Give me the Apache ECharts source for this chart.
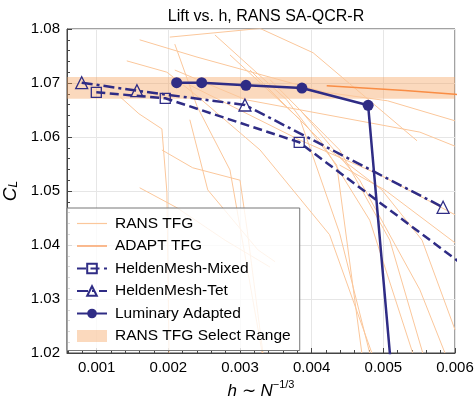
<!DOCTYPE html>
<html>
<head>
<meta charset="utf-8">
<script src="https://cdn.jsdelivr.net/npm/echarts@6/dist/echarts.min.js"></script>
<style>
  html, body { margin: 0; padding: 0; background: #fff; }
  #chart { width: 476px; height: 399px; }
</style>
</head>
<body>
<div id="chart"></div>
<script>
// RANS TFG grid-convergence lines (h, CL), one array per line
var ransTfgX = [
    [0.00202, 0.00328, 0.00402, 0.00547],
    [0.00160, 0.00240, 0.00418, 0.00506, 0.00600],
    [0.00209, 0.00308, 0.00551, 0.00600],
    [0.00142, 0.00198, 0.00240, 0.00328, 0.00425, 0.00484],
    [0.00209, 0.00240, 0.00286, 0.00331],
    [0.00133, 0.00159, 0.00191, 0.00198, 0.00201],
    [0.00191, 0.00234, 0.00300, 0.00310, 0.00332],
    [0.00160, 0.00212, 0.00279, 0.00342],
    [0.00230, 0.00255, 0.00325, 0.00349],
    [0.00265, 0.00365, 0.00435, 0.00470],
    [0.00286, 0.00384, 0.00439, 0.00481],
    [0.00314, 0.00412, 0.00481, 0.00541],
    [0.00342, 0.00439, 0.00509, 0.00555],
    [0.00384, 0.00467, 0.00551, 0.00586],
    [0.00425, 0.00498, 0.00554, 0.00600],
    [0.00439, 0.00502, 0.00600],
    [0.00230, 0.00384, 0.00495, 0.00600]
];
var ransTfgY = [
    [1.0785, 1.0801, 1.0756, 1.0593],
    [1.0780, 1.0748, 1.0683, 1.0667, 1.0630],
    [1.0724, 1.0669, 1.0609, 1.0583],
    [1.0741, 1.0720, 1.0676, 1.0576, 1.0419, 1.0200],
    [1.0772, 1.0657, 1.0539, 1.0200],
    [1.0674, 1.0643, 1.0615, 1.0498, 1.0200],
    [1.0576, 1.0543, 1.0520, 1.0428, 1.0200],
    [1.0506, 1.0469, 1.0409, 1.0359],
    [1.0632, 1.0502, 1.0391, 1.0369],
    [1.0789, 1.0669, 1.0548, 1.0200],
    [1.0752, 1.0632, 1.0422, 1.0200],
    [1.0724, 1.0594, 1.0446, 1.0200],
    [1.0706, 1.0576, 1.0409, 1.0200],
    [1.0650, 1.0520, 1.0317, 1.0200],
    [1.0576, 1.0502, 1.0409, 1.0243],
    [1.0548, 1.0502, 1.0404],
    [1.0696, 1.0594, 1.0530, 1.0456]
];

var adaptX = [0.00421, 0.00530, 0.00600, 0.00650];
var adaptY = [1.0695, 1.0686, 1.0679, 1.0674];

var mixedX = [0.000995, 0.001957, 0.003826, 0.00660];
var mixedY = [1.06828, 1.06717, 1.05902, 1.03148];

var tetX = [0.000791, 0.001562, 0.003069, 0.005834];
var tetY = [1.07006, 1.06857, 1.06593, 1.04698];

var luminaryX = [0.002116, 0.002465, 0.003083, 0.003864, 0.004788, 0.005223];
var luminaryY = [1.07006, 1.07006, 1.06957, 1.06907, 1.06587, 1.00000];

var selectRange = [1.0671, 1.0711];

var xMin = 0.000586, xMax = 0.006;
var yMin = 1.02, yMax = 1.08;

var navy = '#2f2c85';
var ransColor = '#fbc79b';
var adaptColor = '#f98d45';
var bandColor = 'rgba(244,160,90,0.4)';
var fontFam = '"Liberation Sans", Arial, sans-serif';
var thinLineIcon = 'path://M0,0H40V1.6H0Z';

function pairs(xs, ys) {
    return xs.map(function (x, i) { return [x, ys[i]]; });
}

var chart = echarts.init(document.getElementById('chart'));

var series = [];

// shaded band first so that everything sits on top of it
series.push({
    name: 'RANS TFG Select Range',
    type: 'line',
    data: [],
    color: bandColor,
    z: 1,
    markArea: {
        silent: true,
        itemStyle: { color: bandColor },
        data: [[{ yAxis: selectRange[0] }, { yAxis: selectRange[1] }]]
    }
});

ransTfgX.forEach(function (xs, k) {
    series.push({
        name: 'RANS TFG',
        type: 'line',
        data: pairs(xs, ransTfgY[k]),
        symbol: 'none',
        color: ransColor,
        lineStyle: { color: ransColor, width: 1 },
        z: 2,
        silent: true
    });
});

series.push({
    name: 'ADAPT TFG',
    type: 'line',
    data: pairs(adaptX, adaptY),
    symbol: 'none',
    color: adaptColor,
    lineStyle: { color: adaptColor, width: 1.5 },
    z: 3
});

series.push({
    name: 'HeldenMesh-Mixed',
    type: 'line',
    data: pairs(mixedX, mixedY),
    symbol: 'rect',
    symbolSize: 10,
    color: navy,
    itemStyle: { color: 'rgba(0,0,0,0)', borderColor: navy, borderWidth: 1.3 },
    lineStyle: { color: navy, width: 2.5, type: [9, 4.5] },
    z: 4
});

series.push({
    name: 'HeldenMesh-Tet',
    type: 'line',
    data: pairs(tetX, tetY),
    symbol: 'triangle',
    symbolSize: 12,
    color: navy,
    itemStyle: { color: 'rgba(0,0,0,0)', borderColor: navy, borderWidth: 1.3 },
    lineStyle: { color: navy, width: 2.5, type: [11, 4, 3, 4] },
    z: 4
});

series.push({
    name: 'Luminary Adapted',
    type: 'line',
    data: pairs(luminaryX, luminaryY),
    symbol: 'circle',
    symbolSize: 11,
    color: navy,
    itemStyle: { color: navy },
    lineStyle: { color: navy, width: 2.5 },
    z: 5
});

var option = {
    animation: false,
    textStyle: { fontFamily: fontFam },
    title: {
        text: 'Lift vs. h, RANS SA-QCR-R',
        left: 261,
        top: 4,
        textAlign: 'center',
        textStyle: { fontFamily: fontFam, fontSize: 16, fontWeight: 'normal', color: '#000' }
    },
    grid: {
        left: 67, right: 21, top: 29, bottom: 46,
        containLabel: false,
        outerBoundsMode: 'none',
        show: true,
        borderColor: '#444',
        borderWidth: 1,
        backgroundColor: 'transparent'
    },
    legend: {
        orient: 'vertical',
        left: 67,
        top: 208,
        z: 10,
        padding: [7, 9, 6, 9],
        itemWidth: 30,
        itemHeight: 12,
        itemGap: 5.5,
        backgroundColor: 'rgba(255,255,255,0.8)',
        borderColor: '#777',
        borderWidth: 1,
        textStyle: { fontFamily: fontFam, fontSize: 15.5, color: '#000', padding: [0, 0, 0, 3], lineHeight: 17 },
        data: [
            { name: 'RANS TFG', icon: thinLineIcon, itemStyle: { color: ransColor } },
            { name: 'ADAPT TFG', icon: thinLineIcon, itemStyle: { color: adaptColor } },
            'HeldenMesh-Mixed',
            'HeldenMesh-Tet',
            'Luminary Adapted',
            { name: 'RANS TFG Select Range', icon: 'rect', itemStyle: { color: bandColor } }
        ]
    },
    xAxis: {
        type: 'value',
        min: xMin,
        max: xMax,
        minInterval: 0.001,
        maxInterval: 0.001,
        name: '{i|h}{t| ∼ }{i|N}{sup|−1/3}',
        nameLocation: 'middle',
        nameGap: 26,
        nameTextStyle: {
            rich: {
                i: { fontFamily: fontFam, fontSize: 17, fontStyle: 'italic', color: '#000', lineHeight: 20, verticalAlign: 'bottom' },
                t: { fontFamily: fontFam, fontSize: 17, color: '#000', lineHeight: 20, verticalAlign: 'bottom' },
                sup: { fontFamily: fontFam, fontSize: 11, color: '#000', lineHeight: 20, verticalAlign: 'top' }
            }
        },
        axisLine: { show: true, onZero: false, lineStyle: { color: '#444', width: 1 } },
        axisTick: { show: true, inside: true, length: 5, lineStyle: { color: '#444' } },
        minorTick: { show: true, splitNumber: 5, length: 3, lineStyle: { color: '#444' } },
        axisLabel: { showMinLabel: false, fontSize: 15, color: '#000', margin: 7, fontFamily: fontFam },
        splitLine: { show: true, lineStyle: { color: '#e6e6e6', width: 1 } }
    },
    yAxis: {
        type: 'value',
        min: yMin,
        max: yMax,
        interval: 0.01,
        name: '{c|C}{s|L}',
        nameLocation: 'middle',
        nameGap: 46,
        nameTextStyle: {
            rich: {
                c: { fontFamily: fontFam, fontSize: 19, fontStyle: 'italic', color: '#000', lineHeight: 22, verticalAlign: 'bottom' },
                s: { fontFamily: fontFam, fontSize: 12, fontStyle: 'italic', color: '#000', lineHeight: 22, verticalAlign: 'bottom' }
            }
        },
        axisLine: { show: true, lineStyle: { color: '#444', width: 1 } },
        axisTick: { show: true, inside: true, length: 5, lineStyle: { color: '#444' } },
        minorTick: { show: true, splitNumber: 5, length: 3, lineStyle: { color: '#444' } },
        axisLabel: {
            fontSize: 15, color: '#000', margin: 7, fontFamily: fontFam,
            formatter: function (v) { return v.toFixed(2); }
        },
        splitLine: { show: true, lineStyle: { color: '#e6e6e6', width: 1 } }
    },
    series: series
};

chart.setOption(option);

window.addEventListener('resize', function () {
    chart.resize();
});
</script>
</body>
</html>
